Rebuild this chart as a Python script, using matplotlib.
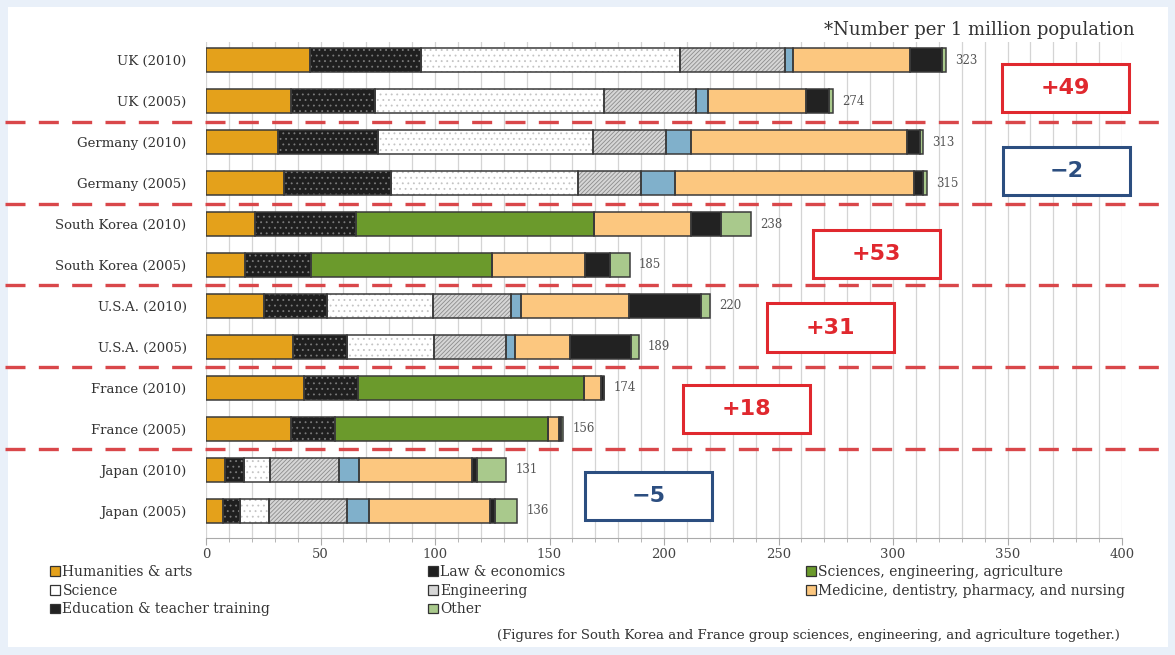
import matplotlib.pyplot as plt
from matplotlib.patches import Rectangle, Patch
from matplotlib.transforms import blended_transform_factory
import numpy as np

# rows, top to bottom
LABELS = ["UK (2010)", "UK (2005)", "Germany (2010)", "Germany (2005)",
          "South Korea (2010)", "South Korea (2005)", "U.S.A. (2010)", "U.S.A. (2005)",
          "France (2010)", "France (2005)", "Japan (2010)", "Japan (2005)"]
TOTALS = [323, 274, 313, 315, 238, 185, 220, 189, 174, 156, 131, 136]

humanities   = [45.5, 37, 31.5, 34, 21.5, 17, 25.5, 38, 43, 37, 8.5, 7.5]
law          = [48.5, 37, 43.5, 47, 44, 29, 27.5, 23.5, 23.5, 19.5, 8, 7.5]
sci_eng_agri = [0, 0, 0, 0, 104, 79, 0, 0, 98.5, 93, 0, 0]
science      = [113, 100, 94, 81.5, 0, 0, 46, 38, 0, 0, 11.5, 12.5]
engineering  = [46, 40, 32, 27.5, 0, 0, 34, 31.5, 0, 0, 30, 34]
agriculture  = [3.5, 5, 11, 15, 0, 0, 4.5, 4, 0, 0, 9, 9.5]
medicine     = [51, 43, 94, 104, 42.5, 40.5, 47, 24, 7.5, 4.5, 49, 53]
education    = [14, 10, 6, 4, 13, 11, 31.5, 26.5, 1.5, 1, 2.5, 2]
other        = [1.5, 2, 1, 2, 13, 8.5, 4, 3.5, 0, 1, 12.5, 10]

CHANGES = ["+49", "\u22122", "+53", "+31", "+18", "\u22125"]

# name, values, face, hatch, hatch colour
SERIES = [
    ("Humanities & arts", humanities, "#e4a11b", None, None),
    ("Law & economics", law, "#1f1f1f", "...", "#7a7a7a"),
    ("Sciences, engineering, agriculture", sci_eng_agri, "#6b9a2c", None, None),
    ("Science", science, "#ffffff", "...", "#c4c4c4"),
    ("Engineering", engineering, "#d6d6d6", "////////", "#8c8c8c"),
    ("Agriculture", agriculture, "#80b0cb", None, None),
    ("Medicine, dentistry, pharmacy, and nursing", medicine, "#fcc77f", None, None),
    ("Education & teacher training", education, "#222222", None, None),
    ("Other", other, "#a9c98c", None, None),
]

plt.rcParams["font.family"] = ["DejaVu Serif"]
plt.rcParams["hatch.linewidth"] = 0.6

fig = plt.figure(figsize=(11.75, 6.55), dpi=100)
fig.patch.set_facecolor("#e9f0f9")
fig.patches.append(Rectangle((8 / 1175, 8 / 655), 1160 / 1175, 640 / 655,
                             transform=fig.transFigure, facecolor="white",
                             edgecolor="none", zorder=-10))

ax = fig.add_axes([206 / 1175, 1 - 538 / 655, 916 / 1175, 496 / 655])
ax.set_facecolor("none")
ax.set_zorder(2)

y = np.arange(len(LABELS))
h = 0.58
left = np.zeros(len(LABELS))
handles = {}
for name, vals, face, hatch, hcol in SERIES:
    vals = np.array(vals, dtype=float)
    ax.barh(y, vals, height=h, left=left, color=face, hatch=hatch,
            edgecolor=hcol if hcol else face, linewidth=0, zorder=3)
    ax.barh(y, vals, height=h, left=left, fill=False, edgecolor="#3a3a3a",
            linewidth=1.1, zorder=4)
    handles[name] = Patch(facecolor=face, edgecolor="#333333", linewidth=0.9)
    left += vals

for yi, tot in zip(y, TOTALS):
    ax.text(tot + 4, yi, str(tot), va="center", ha="left", fontsize=8.5, color="#555555")

ax.set_xlim(0, 400)
ax.set_ylim(11.66, -0.44)
ax.set_yticks(y)
ax.set_yticklabels(LABELS, fontsize=9.5, color="#333333")
ax.tick_params(axis="y", length=0, pad=14)
ax.set_xticks(np.arange(0, 401, 50))
ax.set_xticks(np.arange(0, 401, 10), minor=True)
ax.tick_params(axis="x", which="major", length=5, color="#aaaaaa", labelsize=9.5,
               labelcolor="#444444", pad=2)
ax.tick_params(axis="x", which="minor", length=3, color="#aaaaaa")
ax.grid(axis="x", which="both", color="#d4d4d4", linewidth=0.9, zorder=0)
ax.set_axisbelow(True)
for s in ["top", "right", "left"]:
    ax.spines[s].set_visible(False)
ax.spines["bottom"].set_color("#aaaaaa")

# dashed separators between countries
tr = blended_transform_factory(fig.transFigure, ax.transData)
for yy in [1.5, 3.5, 5.5, 7.5, 9.5]:
    ax.plot([5 / 1175, 1168 / 1175], [yy, yy], transform=tr, color="#d9474a",
            linewidth=2.4, dashes=(6, 4), clip_on=False, zorder=5)

# change boxes: (x0, y0, y1) in data units
boxes = [(347.6, 0.10, 1.27, "#e0282e"), (348.0, 2.12, 3.29, "#2c4e80"),
         (265.0, 4.15, 5.32, "#e0282e"), (245.0, 5.93, 7.12, "#e0282e"),
         (208.3, 7.93, 9.10, "#e0282e"), (165.5, 10.05, 11.22, "#2c4e80")]
for (x0, y0, y1, col), txt in zip(boxes, CHANGES):
    ax.add_patch(Rectangle((x0, y0), 55.5, y1 - y0, facecolor="white", edgecolor=col,
                           linewidth=2.2, clip_on=False, zorder=6))
    ax.text(x0 + 27.75, (y0 + y1) / 2, txt, ha="center", va="center", color=col,
            fontsize=16, fontweight="bold", family=["DejaVu Sans"], zorder=7)

fig.text(1135 / 1175, 1 - 30 / 655, "*Number per 1 million population", ha="right",
         va="center", fontsize=13, color="#333333")

cols = [["Humanities & arts", "Science", "Education & teacher training"],
        ["Law & economics", "Engineering", "Other"],
        ["Sciences, engineering, agriculture", "Medicine, dentistry, pharmacy, and nursing"]]
for xpix, names in zip([50, 428, 806], cols):
    fig.legend([handles[n] for n in names], names, loc="upper left",
               bbox_to_anchor=(xpix / 1175, 1 - 565 / 655), frameon=False,
               fontsize=10, handlelength=0.7, handleheight=0.7, handletextpad=0.2,
               labelspacing=0.34, borderaxespad=0, borderpad=0, labelcolor="#333333")

fig.text(1120 / 1175, 1 - 636 / 655,
         "(Figures for South Korea and France group sciences, engineering, and agriculture together.)",
         ha="right", va="center", fontsize=9.5, color="#333333")

fig.savefig("out.png", dpi=100, facecolor=fig.get_facecolor())
